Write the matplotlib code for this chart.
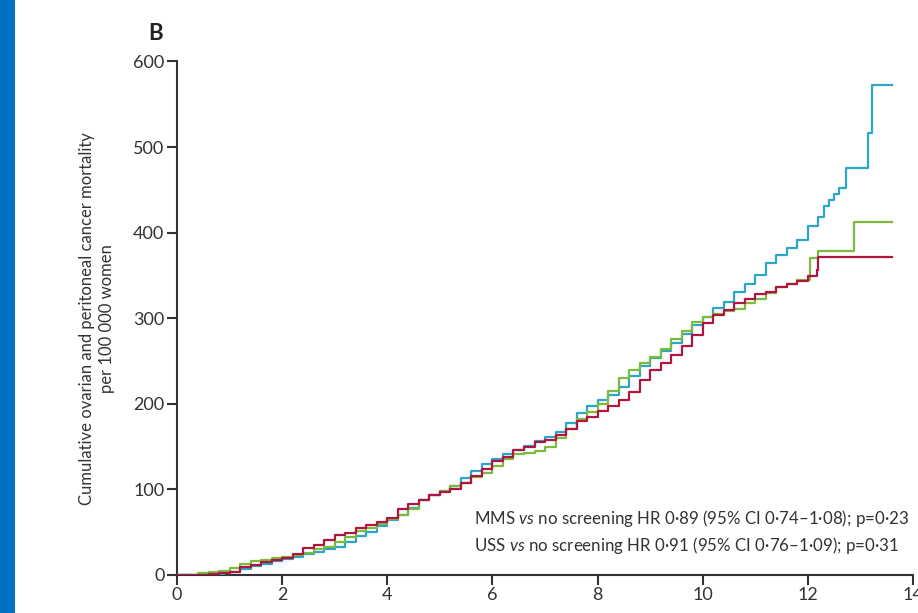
import matplotlib
matplotlib.use("Agg")
import matplotlib.pyplot as plt
from matplotlib.patches import Rectangle

plt.rcParams["font.family"] = ["Lato", "DejaVu Sans"]
plt.rcParams["mathtext.fontset"] = "custom"
plt.rcParams["mathtext.rm"] = "Lato"
plt.rcParams["mathtext.it"] = "Lato:italic"

# Cumulative mortality per 100 000 women (step knots: years, value)
no_screen_t = [0.0, 0.75, 0.9, 1.0, 1.2, 1.4, 1.6, 1.8, 2.0, 2.2, 2.4, 2.6, 2.8, 3.0,
               3.2, 3.4, 3.6, 3.8, 4.0, 4.2, 4.4, 4.6, 4.8, 5.0, 5.2, 5.4, 5.6, 5.8,
               6.0, 6.2, 6.4, 6.6, 6.8, 7.0, 7.2, 7.4, 7.6, 7.8, 8.0, 8.2, 8.4, 8.6,
               8.8, 9.0, 9.2, 9.4, 9.6, 9.8, 10.0, 10.2, 10.4, 10.6, 10.8, 11.0, 11.2,
               11.4, 11.6, 11.8, 12.0, 12.2, 12.3, 12.4, 12.5, 12.6, 12.73, 13.14,
               13.21, 13.6]
no_screen_v = [0, 0, 2, 4, 7, 10, 13, 16, 19, 21, 24, 27, 30, 33,
               38, 45, 50, 57, 64, 70, 78, 88, 93, 98, 104, 113, 122, 130,
               136, 141, 146, 151, 157, 161, 167, 178, 189, 197, 204, 210, 220, 233,
               244, 254, 262, 271, 282, 292, 302, 312, 319, 331, 340, 350, 364,
               374, 382, 392, 408, 418, 431, 438, 445, 452, 475, 516,
               573, 573]

mms_t = [0.0, 0.45, 0.6, 0.8, 1.0, 1.2, 1.4, 1.6, 1.8, 2.0, 2.2, 2.4, 2.6, 2.8, 3.0,
         3.2, 3.4, 3.6, 3.8, 4.0, 4.2, 4.4, 4.6, 4.8, 5.0, 5.2, 5.4, 5.6, 5.8,
         6.0, 6.2, 6.4, 6.6, 6.8, 7.0, 7.2, 7.4, 7.6, 7.8, 8.0, 8.2, 8.4, 8.6,
         8.8, 9.0, 9.2, 9.4, 9.6, 9.8, 10.0, 10.2, 10.4, 10.6, 10.8, 11.0, 11.2,
         11.4, 11.6, 11.8, 12.0, 12.17, 12.2, 13.6]
mms_v = [0, 0, 1, 2, 4, 9, 12, 15, 18, 20, 25, 31, 35, 41, 47,
         49, 55, 58, 62, 67, 77, 83, 88, 94, 97, 101, 107, 116, 124,
         133, 138, 146, 150, 155, 158, 163, 170, 180, 185, 192, 197, 205, 214,
         228, 240, 248, 257, 267, 281, 295, 304, 310, 318, 323, 328, 331,
         336, 340, 344, 349, 356, 372, 372]

uss_t = [0.0, 0.3, 0.4, 0.6, 0.8, 1.0, 1.2, 1.4, 1.6, 1.8, 2.0, 2.2, 2.4, 2.6, 2.8,
         3.0, 3.2, 3.4, 3.6, 3.8, 4.0, 4.2, 4.4, 4.6, 4.8, 5.0, 5.2, 5.4, 5.6, 5.8,
         6.0, 6.2, 6.4, 6.6, 6.8, 7.0, 7.2, 7.4, 7.6, 7.8, 8.0, 8.2, 8.4, 8.6,
         8.8, 9.0, 9.2, 9.4, 9.6, 9.8, 10.0, 10.2, 10.4, 10.6, 10.8, 11.0, 11.2,
         11.4, 11.6, 11.8, 12.04, 12.2, 12.88, 13.6]
uss_v = [0, 0, 2, 4, 5, 8, 13, 16, 18, 20, 21, 23, 26, 30, 33,
         38, 44, 51, 55, 60, 65, 70, 77, 88, 94, 98, 104, 108, 114, 119,
         127, 136, 141, 143, 145, 150, 160, 170, 182, 190, 200, 215, 230, 240,
         248, 255, 264, 276, 285, 296, 302, 305, 308, 311, 318, 323, 330,
         337, 340, 345, 370, 378, 412, 412]

x_ticks = [0, 2, 4, 6, 8, 10, 12, 14]
y_ticks = [0, 100, 200, 300, 400, 500, 600]

annotations = [
    "MMS $\\mathit{vs}$ no screening HR 0·89 (95% CI 0·74–1·08); p=0·23",
    "USS $\\mathit{vs}$ no screening HR 0·91 (95% CI 0·76–1·09); p=0·31",
]

fig = plt.figure(figsize=(9.18, 6.13), dpi=100)
fig.patches.append(Rectangle((0, 0), 15 / 918, 1, transform=fig.transFigure,
                             facecolor="#0071C5", edgecolor="none", zorder=0))

ax = fig.add_axes([0.1928, 0.062, 0.8018, 0.8377])

ax.step(no_screen_t, no_screen_v, where="post", color="#2BA6C8", lw=1.6, zorder=3)
ax.step(uss_t, uss_v, where="post", color="#7CBB3E", lw=1.6, zorder=4)
ax.step(mms_t, mms_v, where="post", color="#B0143F", lw=1.6, zorder=5)

ax.set_xlim(0, 14)
ax.set_ylim(0, 600)
ax.set_xticks(x_ticks)
ax.set_yticks(y_ticks)
for s in ["top", "right"]:
    ax.spines[s].set_visible(False)
for s in ["left", "bottom"]:
    ax.spines[s].set_linewidth(1.5)
    ax.spines[s].set_color("#333333")
    ax.spines[s].set_clip_on(False)
ax.tick_params(axis="both", direction="out", length=7, width=1.5, color="#333333",
               labelsize=13, labelcolor="#333333", pad=2)

ax.set_ylabel("Cumulative ovarian and peritoneal cancer mortality\nper 100 000 women",
              fontsize=12, color="#333333", linespacing=1.3, labelpad=13)

fig.text(148 / 918, 1 - 34 / 613, "B", fontsize=16, fontweight="bold",
         color="#222222", ha="left", va="center")

for i, line in enumerate(annotations):
    ax.text(0.403, 0.11 - i * 0.052, line, transform=ax.transAxes, fontsize=12.2,
            color="#333333", ha="left", va="center")

fig.savefig("out.png", dpi=100)
